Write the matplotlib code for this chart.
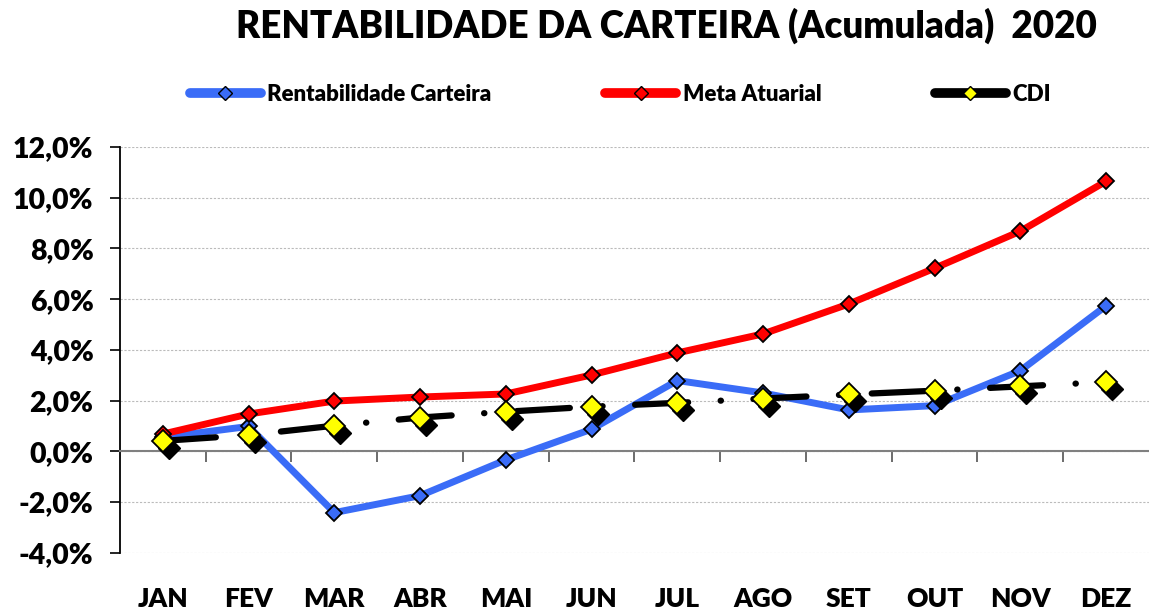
import matplotlib
matplotlib.use("Agg")
import matplotlib.pyplot as plt
from matplotlib.lines import Line2D
from matplotlib.ticker import FuncFormatter, MultipleLocator
from matplotlib.transforms import offset_copy

meses = ["JAN", "FEV", "MAR", "ABR", "MAI", "JUN", "JUL", "AGO", "SET", "OUT", "NOV", "DEZ"]
rent_carteira = [0.55, 0.98, -2.42, -1.75, -0.34, 0.87, 2.79, 2.30, 1.63, 1.80, 3.18, 5.74]
meta_atuarial = [0.68, 1.47, 1.98, 2.14, 2.26, 3.01, 3.88, 4.63, 5.81, 7.22, 8.68, 10.65]
cdi = [0.41, 0.64, 1.01, 1.33, 1.56, 1.76, 1.91, 2.08, 2.24, 2.39, 2.56, 2.73]

plt.rcParams['font.family'] = ['Lato', 'DejaVu Sans']
PESO = "heavy"

AZUL = "#3A6CF7"
VERMELHO = "#FF0000"
AMARELO = "#FFFF00"

fig = plt.figure(figsize=(11.49, 6.11), dpi=100)
ax = fig.add_axes([0.1044, 0.0954, 0.8956, 0.664])

x = list(range(len(meses)))

# linhas
ax.plot(x, rent_carteira, color=AZUL, lw=5, marker="D", ms=8.5,
        mfc=AZUL, mec="black", mew=1.3, zorder=3, solid_joinstyle="round")
ax.plot(x, meta_atuarial, color=VERMELHO, lw=5, marker="D", ms=8.5,
        mfc=VERMELHO, mec="black", mew=1.3, zorder=4, solid_joinstyle="round")

# CDI com sombra nos marcadores
sombra = offset_copy(ax.transData, fig=fig, x=6, y=-7, units="dots")
ax.plot(x, cdi, ls="none", marker="D", ms=11, mfc="black", mec="black",
        transform=sombra, zorder=5)
ax.plot(x, cdi, color="black", lw=4.5, ls=(0, (8.5, 5.2, 0.05, 5.2)),
        dash_capstyle="round", zorder=5)
ax.plot(x, cdi, ls="none", marker="D", ms=11, mfc=AMARELO, mec="black",
        mew=1.3, zorder=6)

ax.set_xlim(-0.5, 11.5)
ax.set_ylim(-4, 12)

# eixo y
ax.yaxis.set_major_locator(MultipleLocator(2))
ax.yaxis.set_major_formatter(FuncFormatter(lambda v, p: ("%.1f%%" % v).replace(".", ",")))
ax.tick_params(axis="y", length=7, width=1.2, pad=12, labelsize=20.5)
for lab in ax.get_yticklabels():
    lab.set_fontweight(PESO)
ax.grid(axis="y", color="#BBBBBB", ls=(0, (2, 1.5)), lw=0.8)
ax.set_axisbelow(True)

# eixo x na linha do zero
ax.spines["top"].set_visible(False)
ax.spines["right"].set_visible(False)
ax.spines["bottom"].set_position(("data", 0))
ax.spines["bottom"].set_color("#808080")
ax.spines["bottom"].set_linewidth(1.5)
ax.spines["left"].set_linewidth(1.3)
ax.set_xticks(x)
ax.set_xticklabels(meses, fontsize=19, fontweight=PESO)
ax.set_xticks([i + 0.5 for i in x[:-1]], minor=True)
ax.tick_params(axis="x", which="major", length=0, pad=98)
ax.tick_params(axis="x", which="minor", length=8, width=1.3, color="#606060")

fig.text(0.58, 0.958, "RENTABILIDADE DA CARTEIRA (Acumulada)  2020",
         ha="center", va="center", fontsize=26.5, fontweight=PESO)

handles = [
    Line2D([], [], color=AZUL, lw=7, marker="D", ms=7, mfc=AZUL, mec="black",
           solid_capstyle="round"),
    Line2D([], [], color=VERMELHO, lw=7, marker="D", ms=7, mfc=VERMELHO, mec="black",
           solid_capstyle="round"),
    Line2D([], [], color="black", lw=7, marker="D", ms=7, mfc=AMARELO, mec="black",
           solid_capstyle="round"),
]
fig.legend(handles, ["Rentabilidade Carteira", "Meta Atuarial", "CDI"],
           loc="center", bbox_to_anchor=(0.54, 0.845), ncol=3, frameon=False,
           prop={"size": 16, "weight": PESO}, handlelength=3.2,
           handletextpad=0.3, columnspacing=5.1)

fig.savefig("out.png", dpi=100)
